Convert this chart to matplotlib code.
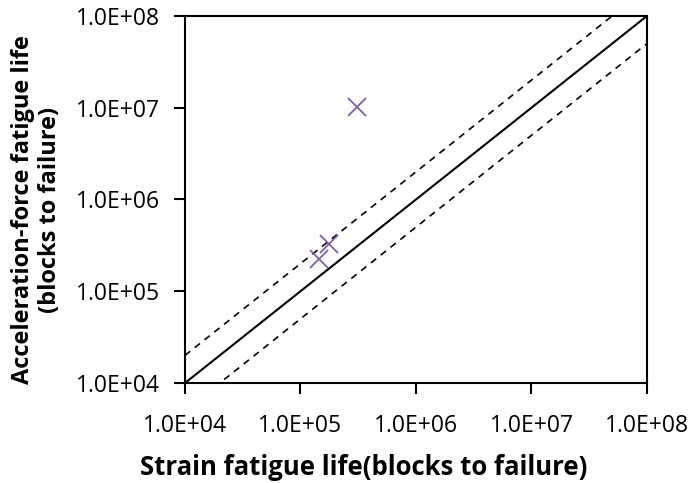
import numpy as np
import matplotlib
matplotlib.use('Agg')
import matplotlib.pyplot as plt
from matplotlib.ticker import FixedLocator, FuncFormatter, NullLocator

plt.rcParams['font.family'] = ['Open Sans', 'DejaVu Sans']

# measured data (strain vs acceleration-force fatigue life)
strain_life = [3.1e5, 1.77e5, 1.45e5]
accel_life = [1.02e7, 3.27e5, 2.24e5]

# reference lines: 1:1 and factor-of-2 bands
line_x = [1e4, 1e8]
band_factor = 2.0
decades = [1e4, 1e5, 1e6, 1e7, 1e8]

fig = plt.figure(figsize=(6.91, 4.83), dpi=100)
ax = fig.add_axes([0.2677, 0.207, 0.6686, 0.760])

lx = np.array(line_x)
ax.plot(lx, lx, color='black', lw=1.5)
ax.plot(lx, lx * band_factor, color='black', lw=1.2, ls=(0, (4, 3.5)))
ax.plot(lx, lx / band_factor, color='black', lw=1.2, ls=(0, (4, 3.5)))

ax.plot(strain_life, accel_life, ls='none', marker='x', ms=13, mew=1.3,
        color='#7E5FA8')

ax.set_xscale('log')
ax.set_yscale('log')
ax.set_xlim(1e4, 1e8)
ax.set_ylim(1e4, 1e8)

def sci(v, pos):
    e = int(round(np.log10(v)))
    return '%.1fE+%02d' % (v / 10 ** e, e)

for axis in (ax.xaxis, ax.yaxis):
    axis.set_major_locator(FixedLocator(decades))
    axis.set_minor_locator(NullLocator())
    axis.set_major_formatter(FuncFormatter(sci))

for s in ax.spines.values():
    s.set_linewidth(1.5)
ax.tick_params(which='major', direction='out', length=8, width=1.5,
               labelsize=16.5)
ax.tick_params(axis='x', pad=14)
ax.tick_params(axis='y', pad=10)

ax.set_xlabel('Strain fatigue life(blocks to failure)', fontsize=18.5,
              fontweight='bold')
ax.set_ylabel('Acceleration-force fatigue life\n(blocks to failure)',
              fontsize=17, fontweight='bold', linespacing=1.15)
ax.xaxis.set_label_coords((364 - 185) / 462.0, -(454 - 383) / 367.0)
ax.yaxis.set_label_coords(-(185 - 62) / 462.0, (383 - 210) / 367.0)

fig.savefig('out.png', dpi=100)
